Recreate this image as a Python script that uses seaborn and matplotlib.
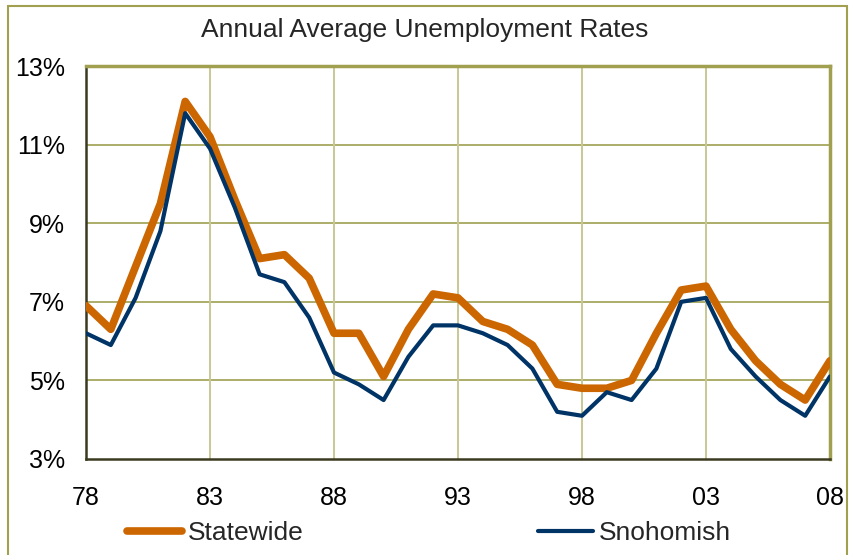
import matplotlib
matplotlib.use("Agg")
import matplotlib.pyplot as plt
from matplotlib.patches import Rectangle
from matplotlib.ticker import FixedLocator, FuncFormatter
import seaborn as sns
import pandas as pd

years = list(range(1978, 2009))
statewide = [6.9, 6.3, 7.9, 9.5, 12.1, 11.2, 9.6, 8.1, 8.2, 7.6, 6.2, 6.2, 5.1,
             6.3, 7.2, 7.1, 6.5, 6.3, 5.9, 4.9, 4.8, 4.8, 5.0, 6.2, 7.3, 7.4,
             6.3, 5.5, 4.9, 4.5, 5.5]
snohomish = [6.2, 5.9, 7.1, 8.8, 11.8, 10.9, 9.4, 7.7, 7.5, 6.6, 5.2, 4.9, 4.5,
             5.6, 6.4, 6.4, 6.2, 5.9, 5.3, 4.2, 4.1, 4.7, 4.5, 5.3, 7.0, 7.1,
             5.8, 5.1, 4.5, 4.1, 5.1]
series_names = ["Statewide", "Snohomish"]
series_colors = ["#CC6600", "#003366"]
x_ticks = [1978, 1983, 1988, 1993, 1998, 2003, 2008]
x_minor = [1980.5, 1985.5, 1990.5, 1995.5, 2000.5, 2005.5]
y_ticks = [3, 5, 7, 9, 11, 13]

df = pd.DataFrame({
    "year": years * 2,
    "rate": statewide + snohomish,
    "area": ["Statewide"] * len(years) + ["Snohomish"] * len(years),
})

sns.set_style("white")
plt.rcParams["font.family"] = ["Liberation Sans", "DejaVu Sans"]

fig = plt.figure(figsize=(8.49, 5.55), dpi=100)
ax = fig.add_axes([0.1013, 0.173, 0.8763, 0.708])

sns.lineplot(data=df, x="year", y="rate", hue="area", hue_order=series_names,
             palette=series_colors, ax=ax, legend=False)
ax.lines[0].set_linewidth(5.5)
ax.lines[1].set_linewidth(3.0)
ax.lines[0].set_zorder(3)
ax.lines[1].set_zorder(4)

ax.set_xlim(1978, 2008)
ax.set_ylim(3, 13)
ax.xaxis.set_major_locator(FixedLocator(x_ticks))
ax.xaxis.set_minor_locator(FixedLocator(x_minor))
ax.yaxis.set_major_locator(FixedLocator(y_ticks))
ax.xaxis.set_major_formatter(FuncFormatter(lambda v, p: f"{int(round(v)) % 100:02d}"))
ax.yaxis.set_major_formatter(FuncFormatter(lambda v, p: f"{int(round(v))}%"))
ax.tick_params(axis="both", labelsize=18, colors="black")
ax.tick_params(axis="x", which="both", direction="inout", length=9, width=1,
               color="#404040", pad=15)
ax.tick_params(axis="y", direction="out", length=6, width=1.2, color="#808080", pad=9)
ax.set_xlabel("")
ax.set_ylabel("")

ax.grid(False)
for y in [5, 7, 9, 11]:
    ax.axhline(y, color="#A0A050", lw=1.2, zorder=1)
for x in [1983, 1988, 1993, 1998, 2003]:
    ax.axvline(x, color="#C8C896", lw=1.4, zorder=1)

for side in ["left", "bottom"]:
    ax.spines[side].set_color("#3A3A20")
    ax.spines[side].set_linewidth(1.8)
for side in ["top", "right"]:
    ax.spines[side].set_visible(True)
    ax.spines[side].set_color("#A0A050")
    ax.spines[side].set_linewidth(2.5)

fig.text(0.5, 1 - 30 / 555, "Annual Average Unemployment Rates", ha="center",
         va="center", fontsize=19)

handles = [plt.Line2D([], [], color=series_colors[0], lw=5.5, solid_capstyle="round"),
           plt.Line2D([], [], color=series_colors[1], lw=3.0, solid_capstyle="round")]
fig.legend(handles, series_names, loc="center", bbox_to_anchor=(0.505, 0.04),
           ncol=2, frameon=False, fontsize=19, handlelength=2.1, handletextpad=0.2,
           columnspacing=8.9)

fig.patches.append(Rectangle((8 / 849, -0.01), 839 / 849, 1.0, transform=fig.transFigure,
                             fill=False, edgecolor="#A0A050", lw=1.5))

fig.savefig("out.png", dpi=100)
